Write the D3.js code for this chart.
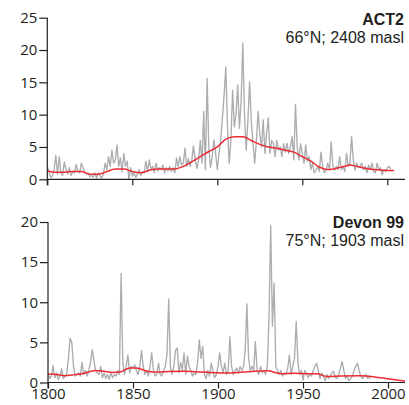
<!DOCTYPE html>
<html><head><meta charset="utf-8">
<script src="https://cdn.jsdelivr.net/npm/d3@7"></script>
<style>
html,body{margin:0;padding:0;background:#fff;}
svg text{font-family:"Open Sans","Noto Sans",sans-serif;fill:#231f20;}
</style></head>
<body><svg id="c" width="409" height="405"></svg>
<script>
// ---- Data ----
const xTicks = [1800, 1850, 1900, 1950, 2000];
const topTicks = [0, 5, 10, 15, 20, 25];
const bottomTicks = [0, 5, 10, 15, 20];

const topStartYear = 1800;
const topValues = [
 2.0,1.2,0.3,0.5,1.5,3.7,0.8,3.5,1.0,0.6,
 2.7,1.5,0.8,1.8,0.6,1.2,1.0,2.3,1.2,1.0,
 2.5,1.8,1.2,0.8,1.0,0.4,0.6,0.3,1.0,0.2,
 1.0,0.5,0.2,0.8,2.5,1.5,3.5,2.0,4.5,2.5,
 3.0,5.3,2.0,3.3,1.2,4.0,2.0,2.8,0.0,1.8,
 0.5,1.0,0.3,0.8,1.5,0.6,1.2,1.0,2.8,1.2,
 3.0,1.5,2.0,1.0,2.5,1.3,1.8,1.5,2.2,1.0,
 1.8,1.3,2.0,1.2,1.8,1.0,3.3,2.0,3.5,2.2,
 2.5,4.8,2.0,3.2,2.0,3.0,5.2,3.0,1.7,3.0,
 6.0,2.5,10.5,1.5,15.6,5.0,1.8,3.5,6.1,4.0,
 1.5,4.0,6.0,9.5,13.0,17.4,8.0,2.5,6.0,13.8,
 8.1,10.0,14.6,7.9,12.0,21.1,10.0,4.5,9.0,15.1,
 9.0,5.6,2.5,6.0,10.5,7.0,5.0,9.2,4.0,7.1,
 9.5,4.0,6.0,5.6,3.5,6.0,4.5,5.0,3.5,5.5,
 4.2,5.6,4.0,5.0,6.6,3.0,11.6,5.0,3.0,5.5,
 4.0,2.5,5.3,2.8,3.5,1.5,2.5,1.0,1.4,2.0,
 1.2,4.2,2.0,1.0,1.4,2.5,1.5,5.8,2.0,1.4,
 2.0,1.5,3.5,1.5,2.0,1.2,4.0,2.0,2.5,6.6,
 3.0,1.4,2.5,1.8,2.0,2.5,1.5,2.0,1.0,2.2,
 1.5,2.5,1.2,1.0,2.5,1.5,1.8,0.7,1.5,1.2,
 1.8,2.0,1.6
];
const topSmoothYears = [1800,1805,1810,1815,1820,1825,1830,1835,1840,1845,1850,1855,1860,1865,1870,1875,1880,1885,1890,1895,1900,1905,1910,1915,1920,1925,1930,1935,1940,1945,1950,1955,1960,1965,1970,1975,1978,1982,1987,1992,1997,2004];
const topSmoothValues = [1.3,1.1,1.1,1.2,1.2,0.8,0.8,1.2,1.6,1.6,1.2,1.0,1.4,1.6,1.6,1.6,2.0,2.7,3.5,4.3,5.0,6.2,6.6,6.6,6.0,5.4,5.0,4.8,4.5,4.2,3.5,2.8,1.9,1.5,1.7,2.0,2.2,2.0,1.7,1.5,1.4,1.35];

const bottomStartYear = 1800;
const bottomValues = [
 1.0,0.5,0.8,2.1,0.6,1.2,0.4,0.8,1.7,0.5,
 0.8,1.0,3.0,5.5,5.0,2.0,0.8,1.0,1.2,0.8,
 2.5,1.0,1.5,0.8,1.5,2.5,4.1,2.8,1.5,1.2,
 1.0,2.0,0.6,1.2,0.5,1.0,0.4,1.2,0.6,1.0,
 0.8,1.5,1.0,13.6,2.5,1.0,2.0,3.4,1.2,2.0,
 1.8,2.2,1.5,1.0,2.0,4.0,2.0,1.0,1.5,0.8,
 2.0,3.7,1.5,0.8,1.0,2.4,1.0,0.8,1.5,2.0,
 3.5,10.4,2.0,1.0,2.0,4.0,4.3,1.2,2.5,1.5,
 3.7,1.0,3.3,2.0,1.5,0.8,1.2,1.0,2.5,5.3,
 3.0,4.5,1.0,0.5,1.5,0.8,2.4,1.5,0.6,1.0,
 2.0,3.7,2.0,1.2,2.4,1.0,1.5,5.7,2.0,1.0,
 1.5,1.8,1.2,2.0,1.5,2.0,4.0,9.8,3.0,1.5,
 2.0,1.5,5.1,1.5,1.0,2.0,1.2,1.5,1.0,2.0,
 8.0,19.6,7.0,12.4,2.0,1.5,1.0,1.5,0.8,1.2,
 1.0,1.8,3.4,1.0,2.0,3.0,7.6,2.5,1.0,1.5,
 0.3,1.5,1.2,0.6,1.0,0.8,1.5,2.0,2.4,1.5,
 0.5,1.2,0.8,0.2,1.0,0.5,0.8,1.2,1.4,0.6,
 0.5,1.0,1.8,2.6,1.5,0.5,0.8,0.2,0.5,0.8,
 1.5,2.0,2.4,1.5,0.8,0.5,0.8,1.0,0.5,0.6,
 0.5
];
const bottomSmoothYears = [1800,1805,1810,1815,1820,1828,1833,1838,1843,1848,1852,1859,1865,1871,1880,1890,1900,1905,1915,1922,1929,1937,1945,1952,1958,1964,1972,1984,1992,2000,2010];
const bottomSmoothValues = [1.05,1.0,0.85,0.95,1.1,1.5,1.4,1.25,1.35,1.8,1.8,1.37,1.3,1.37,1.4,1.3,1.2,1.17,1.3,1.4,1.46,1.1,1.15,1.1,1.1,0.75,0.8,0.83,0.7,0.46,0.18];

const panels = [
  {title:"ACT2", sub:"66°N; 2408 masl", start:topStartYear, values:topValues, sy:topSmoothYears, sv:topSmoothValues, ticks:topTicks, ymax:25, y0:179.3, y1:17.7, x0:47.3, x1:387.3, tY:25, sY:43, labels:false},
  {title:"Devon 99", sub:"75°N; 1903 masl", start:bottomStartYear, values:bottomValues, sy:bottomSmoothYears, sv:bottomSmoothValues, ticks:bottomTicks, ymax:20, y0:382.5, y1:222, x0:48, x1:388, tY:228, sY:246, labels:true}
];

const svg = d3.select("#c");
const ink = "#231f20";
const tickFont = '"Open Sans","Noto Sans",sans-serif';
const titleFont = '"Liberation Sans",Arial,sans-serif';

panels.forEach(p => {
  const x = d3.scaleLinear().domain([1800, 2000]).range([p.x0, p.x1]);
  const y = d3.scaleLinear().domain([0, p.ymax]).range([p.y0, p.y1]);
  const g = svg.append("g");

  // gray raw series
  const raw = p.values.map((v,i)=>({yr:p.start+i, v}));
  g.append("path").datum(raw)
    .attr("fill","none").attr("stroke","#abadb0").attr("stroke-width",1.35)
    .attr("stroke-linejoin","round")
    .attr("d", d3.line().x(d=>x(d.yr)).y(d=>y(d.v)));

  // red smooth
  const sm = p.sy.map((yr,i)=>({yr, v:p.sv[i]}));
  g.append("path").datum(sm)
    .attr("fill","none").attr("stroke","#ec2b30").attr("stroke-width",1.5)
    .attr("d", d3.line().curve(d3.curveMonotoneX).x(d=>x(d.yr)).y(d=>y(d.v)));

  // y axis
  const ya = g.append("g").attr("transform",`translate(${p.x0},0)`)
    .call(d3.axisLeft(y).tickValues(p.ticks).tickSize(8).tickPadding(2).tickSizeOuter(0));
  ya.select(".domain").attr("stroke",ink).attr("stroke-width",1.2).attr("d",`M0,${p.y1}V${p.y0+6}`);
  ya.selectAll(".tick line").attr("stroke",ink).attr("stroke-width",1.2);
  ya.selectAll(".tick text").attr("font-size",15).attr("fill",ink).style("font-family",tickFont);

  // x axis
  const xa = g.append("g").attr("transform",`translate(0,${p.y0})`)
    .call(d3.axisBottom(x).tickValues(xTicks).tickSize(6).tickPadding(0).tickSizeOuter(0)
      .tickFormat(p.labels ? d3.format("d") : ""));
  xa.select(".domain").attr("stroke",ink).attr("stroke-width",1.2).attr("d",`M${p.x0},0H405`);
  xa.selectAll(".tick line").attr("stroke",ink).attr("stroke-width",1.2);
  xa.selectAll(".tick text").attr("font-size",15).attr("fill",ink).style("font-family",tickFont);

  // titles
  g.append("text").attr("x",404).attr("y",p.tY).attr("text-anchor","end")
    .style("font-family",titleFont).attr("font-size",16).attr("font-weight","bold").text(p.title);
  g.append("text").attr("x",404).attr("y",p.sY).attr("text-anchor","end")
    .style("font-family",titleFont).attr("font-size",16).text(p.sub);
});
</script></body></html>
